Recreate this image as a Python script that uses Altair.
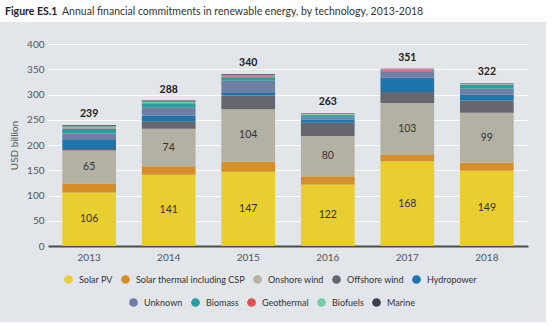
import altair as alt
import pandas as pd

years = ["2013", "2014", "2015", "2016", "2017", "2018"]
techs = ["Solar PV", "Solar thermal including CSP", "Onshore wind", "Offshore wind",
         "Hydropower", "Unknown", "Biomass", "Geothermal", "Biofuels", "Marine"]
colors = ["#E8CE2E", "#D68E28", "#B3B1A4", "#66666E", "#1D75AD",
          "#6F7EA3", "#2A9D9E", "#E05252", "#77C9A7", "#3B3E4C"]
y_ticks = [0, 50, 100, 150, 200, 250, 300, 350, 400]

solar_pv = [106, 141, 147, 122, 168, 149]
solar_thermal = [18, 17, 20, 16, 12, 16]
onshore_wind = [65, 74, 104, 80, 103, 99]
offshore_wind = [3, 15, 27, 26, 22, 24]
hydropower = [18, 11, 5, 6, 28, 12]
unknown = [13, 16, 24, 4, 12, 12]
biomass = [9, 8, 7, 5, 2, 7]
geothermal = [1, 1, 2, 1, 2, 1]
biofuels = [4, 3, 2, 2, 1, 1]
marine = [2, 2, 2, 1, 1, 1]
totals = [239, 288, 340, 263, 351, 322]

series = [solar_pv, solar_thermal, onshore_wind, offshore_wind, hydropower,
          unknown, biomass, geothermal, biofuels, marine]

rows = []
for ti, (t, vals) in enumerate(zip(techs, series)):
    for y, v in zip(years, vals):
        rows.append({"year": y, "tech": t, "value": v, "order": ti})
df = pd.DataFrame(rows)
df_tot = pd.DataFrame({"year": years, "total": totals})

FONT = "Lato"

x_scale = alt.Scale(domain=years, paddingInner=0.325, paddingOuter=0.18)
x_axis = alt.Axis(title=None, labelAngle=0, ticks=False, domainColor="#4A4A4A",
                  domainWidth=2, labelColor="#555555", labelFontSize=10,
                  labelPadding=6, labelFont=FONT, grid=False)
y_scale = alt.Scale(domain=[0, 400], nice=False)
y_axis = alt.Axis(values=y_ticks, tickCount=20, title="USD billion", grid=True,
                  gridColor="#FFFFFF", gridWidth=1.2, domain=False, ticks=False,
                  labelOverlap=False,
                  labelPadding=4, labelColor="#555555", labelFontSize=10, labelFont=FONT,
                  titleColor="#555555", titleFontSize=10, titleFont=FONT,
                  titleFontWeight="normal", titlePadding=7)


def X():
    return alt.X("year:N", scale=x_scale, axis=x_axis)


def Y(field):
    return alt.Y(field, scale=y_scale, axis=y_axis)


base = alt.Chart(df).transform_stack(
    stack="value", groupby=["year"], as_=["y0", "y1"],
    sort=[alt.SortField("order", order="ascending")])


def legend(lx, ly):
    return alt.Legend(orient="none", legendX=lx, legendY=ly, direction="horizontal",
                      columns=5, title=None, symbolType="circle", symbolSize=75,
                      symbolStrokeWidth=0, labelFontSize=9, labelFont=FONT,
                      labelColor="#333333", columnPadding=8, labelOffset=6, padding=0,
                      gridAlign="none")


bars_a = base.transform_filter(alt.datum.order < 5).mark_bar().encode(
    x=X(), y=Y("y0:Q"), y2="y1:Q",
    color=alt.Color("tech:N", sort=techs[:5],
                    scale=alt.Scale(domain=techs[:5], range=colors[:5]),
                    legend=legend(16, 231)),
)
bars_b = base.transform_filter(alt.datum.order >= 5).mark_bar().encode(
    x=X(), y=Y("y0:Q"), y2="y1:Q",
    color=alt.Color("tech:N", sort=techs[5:],
                    scale=alt.Scale(domain=techs[5:], range=colors[5:]),
                    legend=legend(81, 254)),
)

inside = base.transform_filter("datum.order == 0 || datum.order == 2").transform_calculate(
    mid="(datum.y0 + datum.y1) / 2").mark_text(
    font=FONT, fontSize=10.5, color="#333333").encode(
    x=X(), y=Y("mid:Q"), text="value:Q")

tot = alt.Chart(df_tot).mark_text(font=FONT, fontSize=10.5, fontWeight="bold",
                                  color="#222222", dy=-11).encode(
    x=X(), y=Y("total:Q"), text="total:Q")

one = pd.DataFrame({"a": [0]})
white_top = alt.Chart(one).mark_rect(color="#FFFFFF").encode(
    x=alt.value(-48), x2=alt.value(510), y=alt.value(-44), y2=alt.value(-22))
white_right = alt.Chart(one).mark_rect(color="#FFFFFF").encode(
    x=alt.value(498), x2=alt.value(510), y=alt.value(-44), y2=alt.value(282))
white_bottom = alt.Chart(one).mark_rect(color="#FFFFFF").encode(
    x=alt.value(-48), x2=alt.value(510), y=alt.value(278), y2=alt.value(282))

title_bold = alt.Chart(one).mark_text(font=FONT, fontSize=10.5, fontWeight="bold",
                                      align="left", baseline="middle", color="#222222").encode(
    x=alt.value(-43), y=alt.value(-32), text=alt.value("Figure ES.1"))
title_rest = alt.Chart(one).mark_text(font=FONT, fontSize=10.5, align="left",
                                      baseline="middle", color="#333333").encode(
    x=alt.value(14), y=alt.value(-32),
    text=alt.value("Annual financial commitments in renewable energy, by technology, 2013-2018"))

chart = alt.layer(
    white_top, white_right, white_bottom, bars_a, bars_b, inside, tot, title_bold, title_rest
).resolve_scale(color="independent").properties(
    width=480, height=202,
    autosize=alt.AutoSizeParams(type="none"),
    padding={"left": 48, "top": 44, "right": 28, "bottom": 79},
    background="#E2E5EA",
).configure_view(stroke=None)

chart.save("out.html", embed_options={"renderer": "svg", "actions": False})
